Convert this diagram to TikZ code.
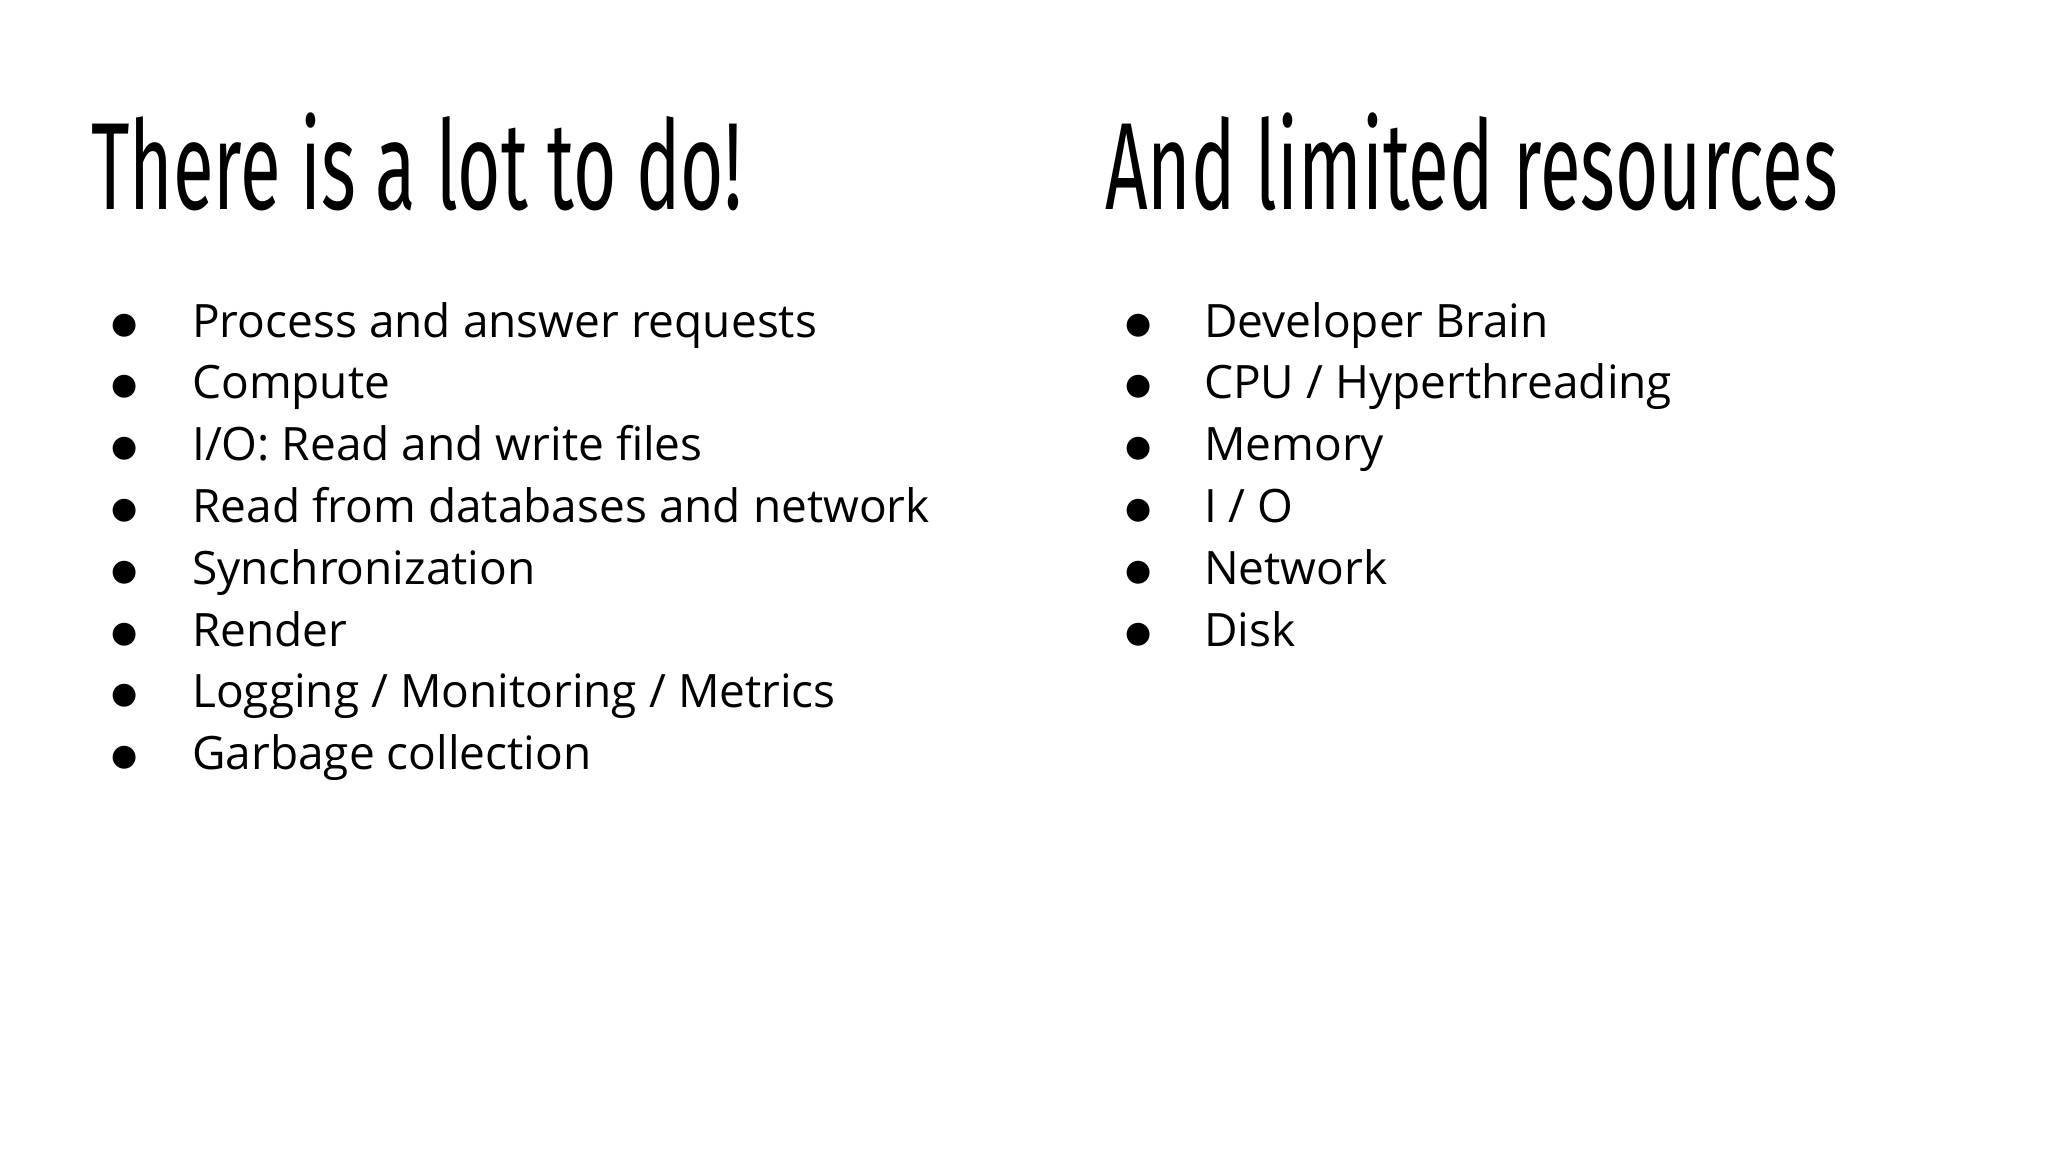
\documentclass[tikz,border=0pt]{standalone}
\usepackage{fontspec}
\setmainfont{Open Sans}
\newfontfamily\titlefont[FakeStretch=0.6]{Fira Sans}
\newfontfamily\bulfont{DejaVu Sans}
\begin{document}
\begin{tikzpicture}[x=1pt,y=-1pt,
  ttl/.style={anchor=base west,inner sep=0pt,font=\titlefont\fontsize{124}{124}\selectfont},
  itm/.style={anchor=base west,inner sep=0pt,font=\fontsize{46}{46}\selectfont},
  bul/.style={anchor=base,inner sep=0pt,font=\bulfont\fontsize{30}{30}\selectfont}]
\useasboundingbox (0,0) rectangle (2048,1152);
\node[ttl] (t1) at (91,209) {There is a lot to do!};
\node[ttl] (t2) at (1105,209) {And limited resources};
\foreach \t [count=\i] in {Process and answer requests,Compute,I/O: Read and write files,Read from databases and network,Synchronization,Render,Logging / Monitoring / Metrics,Garbage collection}{
  \node[itm] (l\i) at (192,{337+61.8*(\i-1)}) {\t};
  \node[bul] (lb\i) at (125,{333+61.8*(\i-1)}) {●};
}
\foreach \t [count=\i] in {Developer Brain,CPU / Hyperthreading,Memory,I / O,Network,Disk}{
  \node[itm] (r\i) at (1204,{337+61.8*(\i-1)}) {\t};
  \node[bul] (rb\i) at (1139,{333+61.8*(\i-1)}) {●};
}
\end{tikzpicture}
\end{document}
